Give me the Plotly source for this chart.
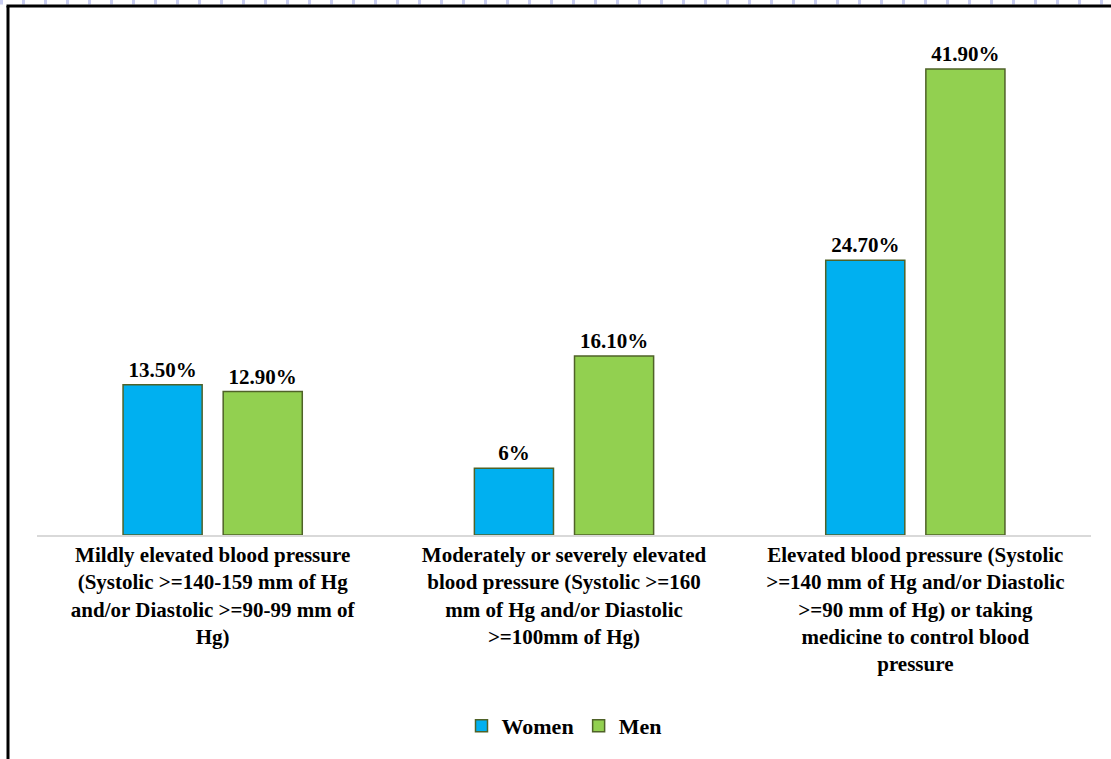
import plotly.graph_objects as go

categories = [
    "Mildly elevated blood pressure<br>(Systolic >=140-159 mm of Hg<br>and/or Diastolic >=90-99 mm of<br>Hg)",
    "Moderately or severely elevated<br>blood pressure (Systolic >=160<br>mm of Hg and/or Diastolic<br>>=100mm of Hg)",
    "Elevated blood pressure (Systolic<br>>=140 mm of Hg and/or Diastolic<br>>=90 mm of Hg) or taking<br>medicine to control blood<br>pressure",
]
women = [13.5, 6.0, 24.7]
men = [12.9, 16.1, 41.9]
women_labels = ["13.50%", "6%", "24.70%"]
men_labels = ["12.90%", "16.10%", "41.90%"]

W, H = 1111, 759
L, R, T, B = 37, 20, 30, 224
pw, ph = W - L - R, H - T - B

def px(x):
    return (x - L) / pw

def py(y):
    return (H - B - y) / ph

font_family = "Liberation Serif, Times New Roman, serif"
outline = "#4f6228"

fig = go.Figure()
fig.add_trace(go.Bar(
    name="Women", x=categories, y=women, text=women_labels,
    textposition="outside", cliponaxis=False,
    marker=dict(color="#00B0F0", line=dict(color=outline, width=1.5)),
    textfont=dict(family=font_family, size=21, color="black", weight="bold"),
))
fig.add_trace(go.Bar(
    name="Men", x=categories, y=men, text=men_labels,
    textposition="outside", cliponaxis=False,
    marker=dict(color="#92D050", line=dict(color=outline, width=1.5)),
    textfont=dict(family=font_family, size=21, color="black", weight="bold"),
))

fig.update_layout(
    width=W, height=H,
    margin=dict(l=L, r=R, t=T, b=B),
    paper_bgcolor="white", plot_bgcolor="white",
    barmode="group", bargap=0.43, bargroupgap=0.21,
    font=dict(family=font_family, color="black"),
    legend=dict(orientation="h", x=0.5, xanchor="center", y=py(726), yanchor="middle",
                font=dict(family=font_family, size=22, color="black", weight="bold"),
                itemwidth=30, traceorder="normal"),
    xaxis=dict(showline=True, linecolor="#d9d9d9", linewidth=1.5, ticks="",
               tickfont=dict(family=font_family, size=21, color="black", weight="bold"),
               showgrid=False),
    yaxis=dict(range=[0, 45.4], visible=False, showgrid=False),
    shapes=[
        dict(type="line", xref="paper", yref="paper", x0=px(0), x1=px(W), y0=py(2), y1=py(2),
             line=dict(color="#c8cdf0", width=5, dash="3px,19px")),
        dict(type="line", xref="paper", yref="paper", x0=px(6.5), x1=px(W), y0=py(6), y1=py(6),
             line=dict(color="black", width=3)),
        dict(type="line", xref="paper", yref="paper", x0=px(8), x1=px(8), y0=py(6), y1=py(H),
             line=dict(color="black", width=3)),
    ],
)

fig.write_html("out.html", config={"displayModeBar": False},
               post_script="document.body.style.margin='0px';document.body.style.overflow='hidden';")
